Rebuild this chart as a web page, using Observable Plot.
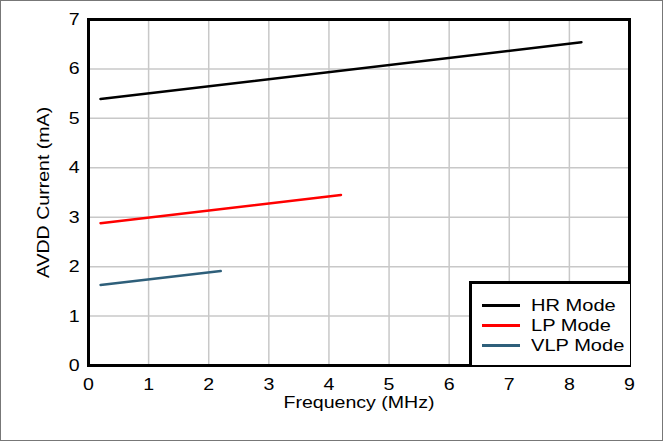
<!DOCTYPE html>
<html><head><meta charset="utf-8">
<script src="https://cdn.jsdelivr.net/npm/d3@7"></script>
<script src="https://cdn.jsdelivr.net/npm/@observablehq/plot@0.6"></script>
<style>
html,body{margin:0;padding:0;background:#fff;}
#wrap{position:relative;width:663px;height:441px;overflow:hidden;font-family:"Liberation Sans",Arial,sans-serif;}
#frame{position:absolute;left:0;top:0;width:661px;height:439px;border:1px solid #777;pointer-events:none;}
#legend{position:absolute;left:469px;top:281px;width:158px;height:81px;border:3px solid #000;border-right:none;border-bottom:none;background:#fff;font-size:17px;color:#000;}
.row{position:absolute;left:10px;height:20px;line-height:20px;white-space:nowrap;}
.sw{display:inline-block;width:38px;height:2.5px;vertical-align:middle;margin-right:11px;position:relative;top:-1px;}
.lt{display:inline-block;transform:scaleX(1.18);transform-origin:left center;}
</style></head>
<body><div id="wrap"><div id="frame"></div></div>
<script>
const seriesNames = ["HR Mode", "LP Mode", "VLP Mode"];
const seriesColors = ["#000000", "#ff0000", "#2e5f7a"];
const hrFreq = [0.2, 8.2];
const hrCurrent = [5.39, 6.54];
const lpFreq = [0.2, 4.2];
const lpCurrent = [2.88, 3.45];
const vlpFreq = [0.2, 2.2];
const vlpCurrent = [1.63, 1.91];
const xTicks = [0,1,2,3,4,5,6,7,8,9];
const yTicks = [0,1,2,3,4,5,6,7];

const rows = [];
[[hrFreq,hrCurrent],[lpFreq,lpCurrent],[vlpFreq,vlpCurrent]].forEach(([f,c],i)=>{
  f.forEach((x,j)=>rows.push({series:seriesNames[i], f:x, c:c[j]}));
});

const chart = Plot.plot({
  width: 663, height: 441,
  marginLeft: 88, marginRight: 34, marginTop: 19, marginBottom: 76,
  style: {fontFamily: '"Liberation Sans", Arial, sans-serif', fontSize: "17px", color: "#000", background: "transparent"},
  x: {domain: [0, 9], label: null},
  y: {domain: [0, 7], label: null},
  color: {domain: seriesNames, range: seriesColors},
  marks: [
    Plot.gridX(xTicks, {stroke: "#c8c8c8", strokeOpacity: 1, strokeWidth: 1.5}),
    Plot.gridY(yTicks, {stroke: "#c8c8c8", strokeOpacity: 1, strokeWidth: 1.5}),
    Plot.lineY(rows, {x: "f", y: "c", z: "series", stroke: "series", strokeWidth: 2.5}),
    Plot.frame({stroke: "#000", strokeWidth: 3}),
    Plot.axisX({ticks: xTicks, tickFormat: "d", tickSize: 0, tickPadding: 12, label: null, fontSize: 17}),
    Plot.axisY({ticks: yTicks, tickFormat: "d", tickSize: 0, tickPadding: 9, label: null, fontSize: 17}),
    Plot.text(["Frequency (MHz)"], {frameAnchor: "bottom", dy: 42, fontSize: 17}),
    Plot.text(["AVDD Current (mA)"], {frameAnchor: "left", textAnchor: "middle", dx: -45, dy: 0, rotate: -90, fontSize: 17})
  ]
});
chart.style.position = "absolute";
chart.style.left = "0px";
chart.style.top = "0px";
const wrap = document.getElementById("wrap");
wrap.insertBefore(chart, wrap.firstChild);

// Horizontally widen glyphs to match the reference's stretched typeface
chart.querySelectorAll("text").forEach(t => {
  const len = t.getComputedTextLength();
  if (len > 0) {
    t.setAttribute("textLength", (len * 1.15).toFixed(2));
    t.setAttribute("lengthAdjust", "spacingAndGlyphs");
  }
});

const leg = document.createElement("div");
leg.id = "legend";
seriesNames.forEach((n,i)=>{
  const r = document.createElement("div");
  r.className = "row";
  r.style.top = (12 + i*20) + "px";
  r.innerHTML = `<span class="sw" style="background:${seriesColors[i]}"></span><span class="lt">${n}</span>`;
  leg.appendChild(r);
});
wrap.appendChild(leg);
</script>
</body></html>
